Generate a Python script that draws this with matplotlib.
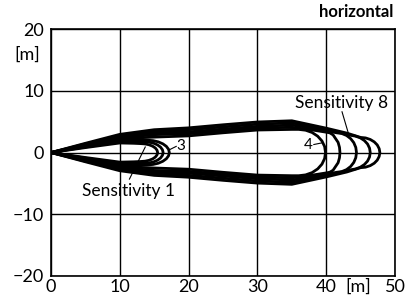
import matplotlib
matplotlib.use("Agg")
import matplotlib.pyplot as plt

plt.rcParams["font.family"] = ["Lato", "DejaVu Sans"]

# =========================
# Datos: contorno superior de cada lóbulo (x, y), el inferior es simétrico
# =========================
lobe1_x = [0, 5, 10, 12, 13, 13.65, 14.25, 14.77, 15.17, 15.41, 15.5]
lobe1_y = [0, 0.8, 1.55, 1.5, 1.45, 1.4, 1.26, 1.03, 0.73, 0.38, 0]

lobe2_x = [0, 5, 10, 12, 13.5, 14.22, 14.9, 15.48, 15.92, 16.2, 16.3]
lobe2_y = [0, 0.9, 1.8, 1.78, 1.75, 1.69, 1.52, 1.24, 0.88, 0.45, 0]

lobe3_x = [0, 5, 10, 12, 14, 14.83, 15.6, 16.26, 16.77, 17.09, 17.2]
lobe3_y = [0, 1.0, 2.0, 2.05, 2.0, 1.93, 1.73, 1.41, 1.0, 0.52, 0]

lobe4_x = [0, 5, 10, 15, 20, 25, 30, 35, 36, 37.0, 37.95, 38.76, 39.38, 39.77, 39.9]
lobe4_y = [0, 1.1, 2.25, 2.5, 2.7, 3.2, 3.65, 3.75, 3.75, 3.62, 3.25, 2.65, 1.88, 0.97, 0]

lobe5_x = [0, 5, 10, 15, 20, 25, 30, 35, 38, 40, 40.52, 41.0, 41.73, 41.93, 42.0]
lobe5_y = [0, 1.2, 2.4, 2.9, 3.05, 3.5, 3.95, 4.1, 3.65, 3.3, 3.19, 2.86, 1.65, 0.85, 0]

lobe6_x = [0, 5, 10, 15, 20, 25, 30, 35, 38, 41.5, 42.25, 42.95, 43.55, 44.01, 44.3, 44.4]
lobe6_y = [0, 1.3, 2.55, 3.2, 3.35, 3.8, 4.25, 4.45, 3.95, 3.2, 3.09, 2.77, 2.26, 1.6, 0.83, 0]

lobe7_x = [0, 5, 10, 15, 20, 25, 30, 35, 40, 43.5, 44.25, 44.95, 45.55, 46.01, 46.3, 46.4]
lobe7_y = [0, 1.4, 2.7, 3.5, 3.7, 4.15, 4.6, 4.8, 3.75, 2.8, 2.66, 2.38, 1.94, 1.38, 0.71, 0]

lobe8_x = [0, 5, 10, 15, 20, 25, 30, 35, 40, 43, 45, 45.72, 46.4, 46.98, 47.42, 47.7, 47.8]
lobe8_y = [0, 1.5, 2.95, 3.7, 4.0, 4.5, 4.95, 5.15, 3.95, 3.15, 2.45, 2.37, 2.12, 1.73, 1.23, 0.63, 0]

lobes = [
    (lobe1_x, lobe1_y), (lobe2_x, lobe2_y), (lobe3_x, lobe3_y),
    (lobe4_x, lobe4_y), (lobe5_x, lobe5_y), (lobe6_x, lobe6_y),
    (lobe7_x, lobe7_y), (lobe8_x, lobe8_y),
]

x_ticks = [0, 10, 20, 30, 40, 50]
y_ticks = [-20, -10, 0, 10, 20]

# =========================
# Gráfico
# =========================
fig = plt.figure(figsize=(4.18, 3.0), dpi=100)
ax = fig.add_axes([0.122, 0.08, 0.823, 0.823])

for lx, ly in lobes:
    xs = lx + lx[::-1]
    ys = ly + [-v for v in ly[::-1]]
    ax.plot(xs, ys, color="black", lw=2.0, solid_joinstyle="round", zorder=3)

ax.set_xlim(0, 50)
ax.set_ylim(-20, 20)
ax.set_xticks(x_ticks)
ax.set_yticks(y_ticks)
ax.tick_params(length=0, labelsize=13, pad=2)
ax.tick_params(axis="y", pad=5)
ax.grid(True, color="black", lw=1.0)
for s in ax.spines.values():
    s.set_linewidth(1.2)

# etiquetas de unidades
ax.text(-0.07, 15.8, "[m]", ha="center", va="center", fontsize=13,
        transform=ax.get_yaxis_transform())
ax.annotate("[m]", xy=(44.6, 0), xycoords=ax.get_xaxis_transform(),
            xytext=(0, -2), textcoords="offset points",
            ha="center", va="top", fontsize=13)
fig.text(0.94, 0.96, "horizontal", ha="right", va="center", fontsize=12,
         fontweight="bold")

# anotaciones
ax.text(11.2, -6.2, "Sensitivity 1", ha="center", va="center", fontsize=12.5)
ax.plot([11.4, 13.7], [-4.3, 0.9], color="black", lw=0.8)
ax.text(18.8, 1.0, "3", ha="center", va="center", fontsize=11)
ax.plot([17.3, 18.2], [0.5, 1.0], color="black", lw=0.8)
ax.text(37.4, 1.3, "4", ha="center", va="center", fontsize=11)
ax.plot([38.2, 39.3], [1.3, 1.55], color="black", lw=0.8)
ax.text(42.3, 8.1, "Sensitivity 8", ha="center", va="center", fontsize=12.5)
ax.plot([42.3, 43.2], [6.6, 3.2], color="black", lw=0.8)

fig.savefig("out.png", dpi=100)
